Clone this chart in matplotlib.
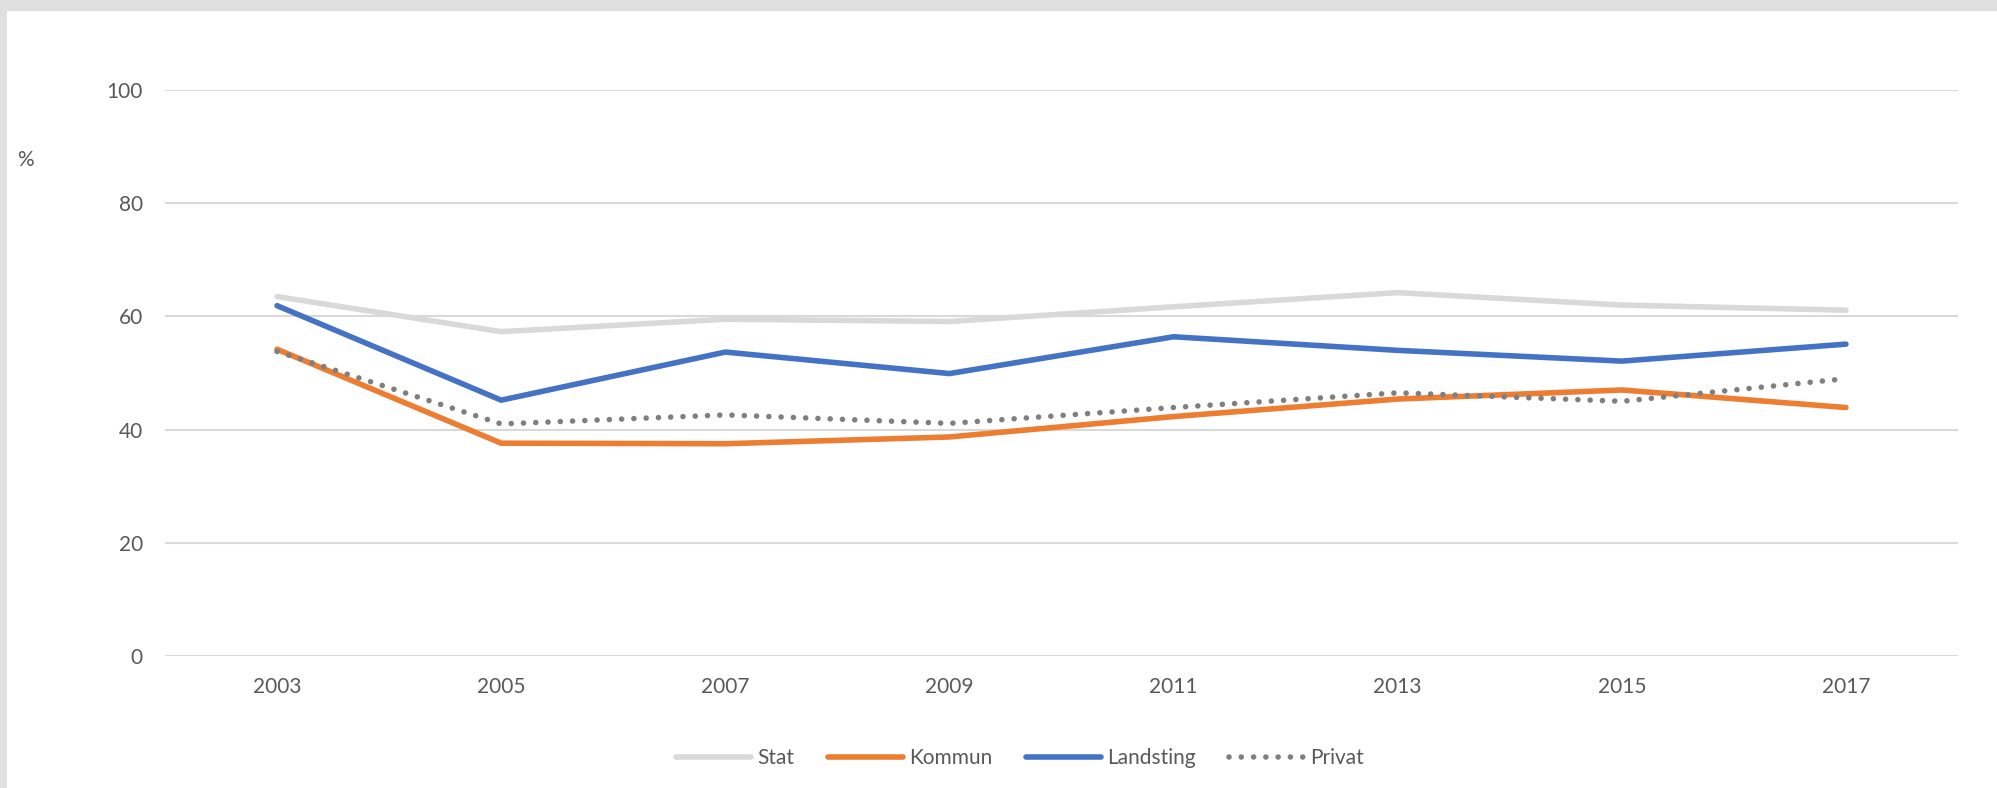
import matplotlib.pyplot as plt
import numpy as np
from matplotlib.patches import Rectangle

plt.rcParams['font.family'] = ['Lato', 'DejaVu Sans']

"""Data"""

years = ['2003', '2005', '2007', '2009', '2011', '2013', '2015', '2017']
stat = [63.5, 57.3, 59.5, 59.1, 61.7, 64.2, 62.0, 61.1]
kommun = [54.2, 37.6, 37.5, 38.7, 42.3, 45.4, 47.0, 43.9]
landsting = [61.9, 45.2, 53.7, 49.9, 56.4, 54.0, 52.1, 55.1]
privat = [53.8, 41.0, 42.6, 41.1, 43.9, 46.5, 45.0, 49.0]

text_color = '#595959'
grid_color = '#d9d9d9'

"""Figure"""

fig = plt.figure(figsize=(19.97, 7.88), dpi=100, facecolor='#e0e0e0')
# white chart area inside the grey frame (top and left edges)
fig.patches.append(Rectangle((7 / 1997, 0), 1 - 7 / 1997, 1 - 11 / 788,
                             transform=fig.transFigure, facecolor='white',
                             edgecolor='none', zorder=-10))

ax = fig.add_axes([165 / 1997, 1 - 656 / 788, (1958 - 165) / 1997, (656 - 90) / 788])
ax.set_facecolor('white')

x = np.arange(len(years))
ax.plot(x, stat, color='#d9d9d9', lw=4, solid_capstyle='round', label='Stat', zorder=3)
ax.plot(x, kommun, color='#ed7d31', lw=4, solid_capstyle='round', label='Kommun', zorder=4)
ax.plot(x, landsting, color='#4472c4', lw=4, solid_capstyle='round', label='Landsting', zorder=5)
ax.plot(x, privat, color='#7f7f7f', lw=4, linestyle=(0, (0.01, 2.2)),
        dash_capstyle='round', label='Privat', zorder=6)

ax.set_xlim(-0.5, len(years) - 0.5)
ax.set_ylim(0, 100)
ax.set_yticks([0, 20, 40, 60, 80, 100])
ax.set_xticks(x)
ax.set_xticklabels(years)
ax.grid(axis='y', color=grid_color, lw=1.5)
ax.set_axisbelow(True)
for s in ax.spines.values():
    s.set_visible(False)
ax.tick_params(axis='both', length=0, labelsize=15, labelcolor=text_color)
ax.tick_params(axis='y', pad=16)
ax.tick_params(axis='x', pad=15)

fig.text(25 / 1997, 1 - 160 / 788, '%', fontsize=15, color=text_color,
         ha='center', va='center')

leg = fig.legend(loc='center', bbox_to_anchor=(1020 / 1997, 1 - 758 / 788), ncol=4,
                 frameon=False, fontsize=15, handlelength=3.6, handletextpad=0.3,
                 columnspacing=1.6, labelcolor=text_color)

fig.savefig('out.png', dpi=100, facecolor=fig.get_facecolor())
